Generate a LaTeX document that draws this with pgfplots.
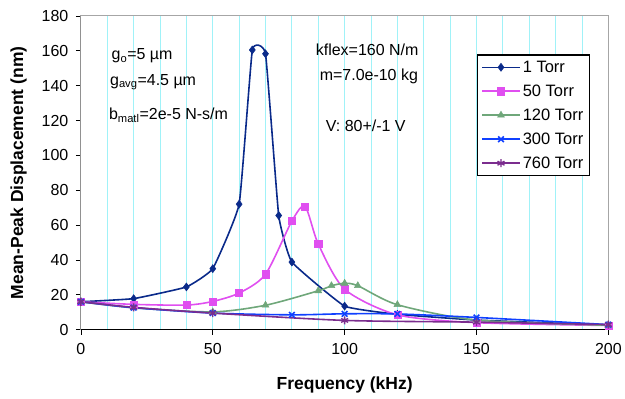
\documentclass[border=0pt]{standalone}
\usepackage{pgfplots}
\pgfplotsset{compat=1.18}
\usepackage{fontspec}
\setmainfont{Liberation Sans}
\definecolor{cA}{HTML}{0A2A8A}
\definecolor{cB}{HTML}{E04FF0}
\definecolor{cC}{HTML}{6FA77A}
\definecolor{cD}{HTML}{1040FF}
\definecolor{cE}{HTML}{7B2D8E}
\definecolor{gridc}{HTML}{A0F2F8}
\begin{document}
\begin{tikzpicture}
\begin{axis}[
  scale only axis, width=528pt, height=314pt,
  xmin=0, xmax=200, ymin=0, ymax=180,
  xtick={0,50,...,200}, ytick={0,20,...,180},
  minor xtick={10,20,...,190},
  xmajorgrids, xminorgrids,
  grid style={gridc, line width=0.9pt},
  minor tick length=0pt, major tick length=5pt,
  tick align=outside, xtick pos=bottom, ytick pos=left,
  axis line style={gray!70, line width=1pt},
  tick style={black, line width=0.8pt},
  ticklabel style={font=\fontsize{16}{18}\selectfont},
  xticklabel style={yshift=-5pt},
  yticklabel style={xshift=-4pt},
  /pgf/number format/assume math mode=true,
  xlabel={\textbf{Frequency (kHz)}},
  ylabel={\textbf{Mean-Peak Displacement (nm)}},
  label style={font=\fontsize{17.5}{20}\selectfont},
  xlabel style={at={(axis description cs:0.5,-0.175)}, anchor=center},
  ylabel style={at={(axis description cs:-0.118,0.5)}, anchor=center},
  legend style={at={(axis description cs:0.965,0.878)}, anchor=north east,
    draw=black, line width=1.3pt, font=\fontsize{16.5}{18}\selectfont,
    row sep=11pt, inner xsep=4pt, inner ysep=6pt, fill=white,
    nodes={inner xsep=2pt, inner ysep=0pt}},
  legend image code/.code={\draw[#1, line width=1.6pt, mark repeat=2, mark phase=2]
     plot coordinates {(0pt,0pt) (19pt,0pt) (38pt,0pt)};},
  legend cell align=left,
  every axis plot/.append style={line width=1.6pt, smooth, tension=0.45},
  mark size=4pt,
]
\addplot[cA, tension=0.2, mark=diamond*, mark options={solid, line width=0.5pt}] coordinates {
(0,16) (20,17.8) (40,24.5) (50,35) (60,72) (65,160.5) (70,158.3) (75,65.5) (80,38.8) (100,13.5) (120,8.8) (150,5.5) (200,2.6)};
\addlegendentry{1 Torr}
\addplot[cB, mark=square*, mark size=3.6pt, mark options={solid, line width=0.5pt}] coordinates {
(0,16) (20,14.5) (40,14.1) (50,16.2) (60,21) (70,31.8) (80,62.3) (85,70.7) (90,49.2) (100,23.2) (120,8.5) (150,4) (200,2.4)};
\addlegendentry{50 Torr}
\addplot[cC, mark=triangle*, mark options={solid, line width=0.5pt}] coordinates {
(0,16) (20,12.5) (50,10.2) (70,14) (90,22.3) (95,25.2) (100,26.6) (105,25.2) (120,14.3) (150,5.5) (200,2.5)};
\addlegendentry{120 Torr}
\addplot[cD, mark=x, mark options={solid, line width=1.6pt}] coordinates {
(0,16) (20,12.6) (50,9.5) (80,8.5) (100,9.1) (120,9) (150,7) (200,2.9)};
\addlegendentry{300 Torr}
\addplot[cE, mark=asterisk, mark options={solid, line width=1.4pt}] coordinates {
(0,16) (20,12.8) (50,9.5) (100,5.3) (150,4.3) (200,2.9)};
\addlegendentry{760 Torr}
\draw[black, line width=1pt] (rel axis cs:0,1) -- (rel axis cs:0,0) -- (rel axis cs:1,0);
\coordinate (o) at (rel axis cs:0,0);
\node[anchor=west, inner sep=0pt, font=\fontsize{16}{18}\selectfont] at (axis cs:11.6,157) {g\textsubscript{o}=5 µm};
\node[anchor=west, inner sep=0pt, font=\fontsize{16}{18}\selectfont] at (axis cs:11,142) {g\textsubscript{avg}=4.5 µm};
\node[anchor=west, inner sep=0pt, font=\fontsize{16}{18}\selectfont] at (axis cs:10.6,123) {b\textsubscript{matl}=2e-5 N-s/m};
\node[anchor=west, inner sep=0pt, font=\fontsize{16}{18}\selectfont] at (axis cs:89,160.5) {kflex=160 N/m};
\node[anchor=west, inner sep=0pt, font=\fontsize{16}{18}\selectfont] at (axis cs:90.5,145.6) {m=7.0e-10 kg};
\node[anchor=west, inner sep=0pt, font=\fontsize{16}{18}\selectfont] at (axis cs:92.8,117) {V: 80+/-1 V};
\end{axis}
\path ([shift={(-81pt,-69pt)}]o) rectangle ++(625pt,399pt);
\end{tikzpicture}
\end{document}
